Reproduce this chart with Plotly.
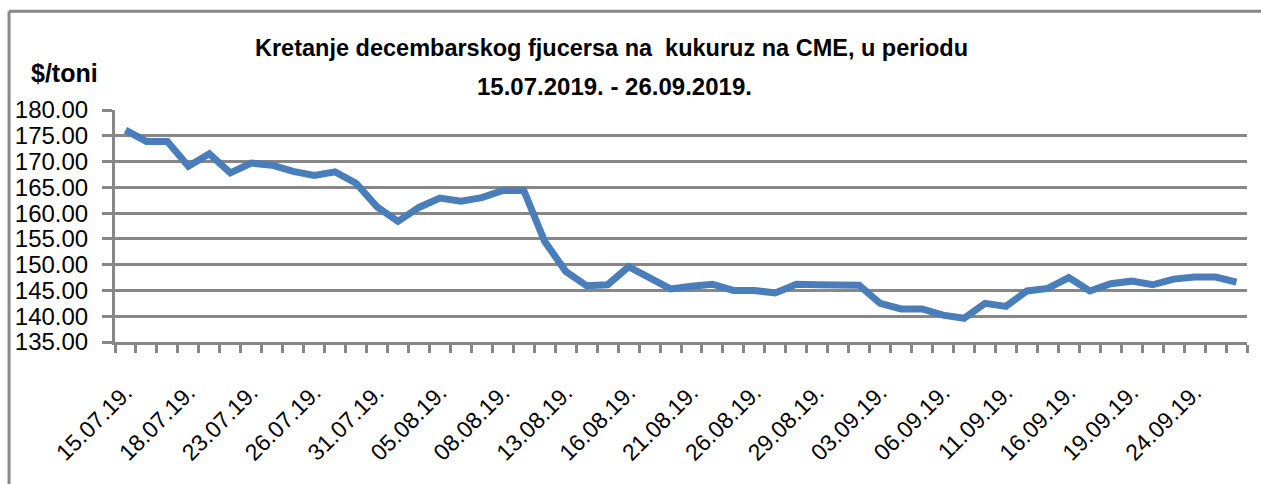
import plotly.graph_objects as go

dates = ["15.07.19.", "16.07.19.", "17.07.19.", "18.07.19.", "19.07.19.",
         "22.07.19.", "23.07.19.", "24.07.19.", "25.07.19.", "26.07.19.",
         "29.07.19.", "30.07.19.", "31.07.19.", "01.08.19.", "02.08.19.",
         "05.08.19.", "06.08.19.", "07.08.19.", "08.08.19.", "09.08.19.",
         "12.08.19.", "13.08.19.", "14.08.19.", "15.08.19.", "16.08.19.",
         "19.08.19.", "20.08.19.", "21.08.19.", "22.08.19.", "23.08.19.",
         "26.08.19.", "27.08.19.", "28.08.19.", "29.08.19.", "30.08.19.",
         "02.09.19.", "03.09.19.", "04.09.19.", "05.09.19.", "06.09.19.",
         "09.09.19.", "10.09.19.", "11.09.19.", "12.09.19.", "13.09.19.",
         "16.09.19.", "17.09.19.", "18.09.19.", "19.09.19.", "20.09.19.",
         "23.09.19.", "24.09.19.", "25.09.19.", "26.09.19."]

prices = [176.1, 173.9, 173.9, 169.1, 171.5, 167.8, 169.7, 169.3, 168.1, 167.3,
          168.0, 165.8, 161.2, 158.4, 161.1, 162.9, 162.3, 163.0, 164.4, 164.4,
          154.5, 148.7, 145.9, 146.1, 149.6, 147.6, 145.3, 145.8, 146.2, 145.0,
          145.0, 144.5, 146.2, 146.1, 146.0, 146.0, 142.5, 141.4, 141.4, 140.2,
          139.6, 142.5, 141.9, 144.9, 145.4, 147.5, 144.9, 146.3, 146.8, 146.1,
          147.2, 147.6, 147.6, 146.6]

tick_labels = ["15.07.19.", "18.07.19.", "23.07.19.", "26.07.19.", "31.07.19.",
               "05.08.19.", "08.08.19.", "13.08.19.", "16.08.19.", "21.08.19.",
               "26.08.19.", "29.08.19.", "03.09.19.", "06.09.19.", "11.09.19.",
               "16.09.19.", "19.09.19.", "24.09.19."]

y_ticks = [135, 140, 145, 150, 155, 160, 165, 170, 175, 180]

title_lines = ["Kretanje decembarskog fjucersa na  kukuruz na CME, u periodu",
               "15.07.2019. - 26.09.2019."]

x_idx = list(range(len(dates)))
tick_pos = [dates.index(t) for t in tick_labels]

GRID = "#878787"
FONT = "Liberation Sans, Arial, sans-serif"

fig = go.Figure()
fig.add_trace(go.Scatter(
    x=x_idx, y=prices, mode="lines",
    line=dict(color="#4a7ebb", width=7),
    hoverinfo="skip", showlegend=False,
))

W, H = 1261, 484
L, R, T, B = 115, 13.5, 110, 141.7
pw = W - L - R
ph = H - T - B


def px_x(x):
    return (x - L) / pw


def px_y(y):
    return 1 + (T - y) / ph


annotations = [
    dict(text=f"<b>{title_lines[0]}</b>", xref="paper", yref="paper",
         x=px_x(612), y=px_y(48), xanchor="center", yanchor="middle",
         showarrow=False, font=dict(size=23.5, family=FONT)),
    dict(text=f"<b>{title_lines[1]}</b>", xref="paper", yref="paper",
         x=px_x(615), y=px_y(86), xanchor="center", yanchor="middle",
         showarrow=False, font=dict(size=24, family=FONT)),
    dict(text="<b>$/toni</b>", xref="paper", yref="paper",
         x=px_x(29), y=px_y(73), xanchor="left", yanchor="middle",
         showarrow=False, font=dict(size=25, family=FONT)),
]

fig.update_layout(
    width=W, height=H,
    margin=dict(l=L, r=R, t=T, b=B, pad=0, autoexpand=False),
    paper_bgcolor="white", plot_bgcolor="white",
    font=dict(family=FONT, color="black"),
    xaxis=dict(
        range=[-0.5, len(dates) - 0.5], automargin=False,
        tickmode="array", tickvals=tick_pos, ticktext=tick_labels,
        tickangle=-45, ticks="", showgrid=False, zeroline=False,
        showline=True, linecolor=GRID, linewidth=3,
        tickfont=dict(size=23, family=FONT),
        ticklabelstandoff=25,
        minor=dict(ticks="outside", ticklen=8, tickwidth=3, tickcolor=GRID,
                   tick0=-0.5, dtick=1, showgrid=False),
    ),
    yaxis=dict(
        range=[135, 180], tickmode="array", tickvals=y_ticks, automargin=False,
        ticktext=[f"{v:.2f}" for v in y_ticks],
        ticks="outside", ticklen=10, tickwidth=3, tickcolor=GRID,
        showgrid=True, gridcolor=GRID, gridwidth=3,
        showline=True, linecolor=GRID, linewidth=3, zeroline=False,
        tickfont=dict(size=24, family=FONT),
        ticklabelstandoff=9,
    ),
    annotations=annotations,
    shapes=[
        dict(type="line", xref="paper", yref="paper",
             x0=px_x(9), x1=px_x(W + 5), y0=px_y(11), y1=px_y(11),
             line=dict(color=GRID, width=3)),
        dict(type="line", xref="paper", yref="paper",
             x0=px_x(9), x1=px_x(9), y0=px_y(11), y1=px_y(H + 5),
             line=dict(color=GRID, width=3)),
    ],
)

fig.write_html(
    "out.html",
    config={"displayModeBar": False},
    post_script="document.body.style.margin='0';document.body.style.overflow='hidden';",
)
